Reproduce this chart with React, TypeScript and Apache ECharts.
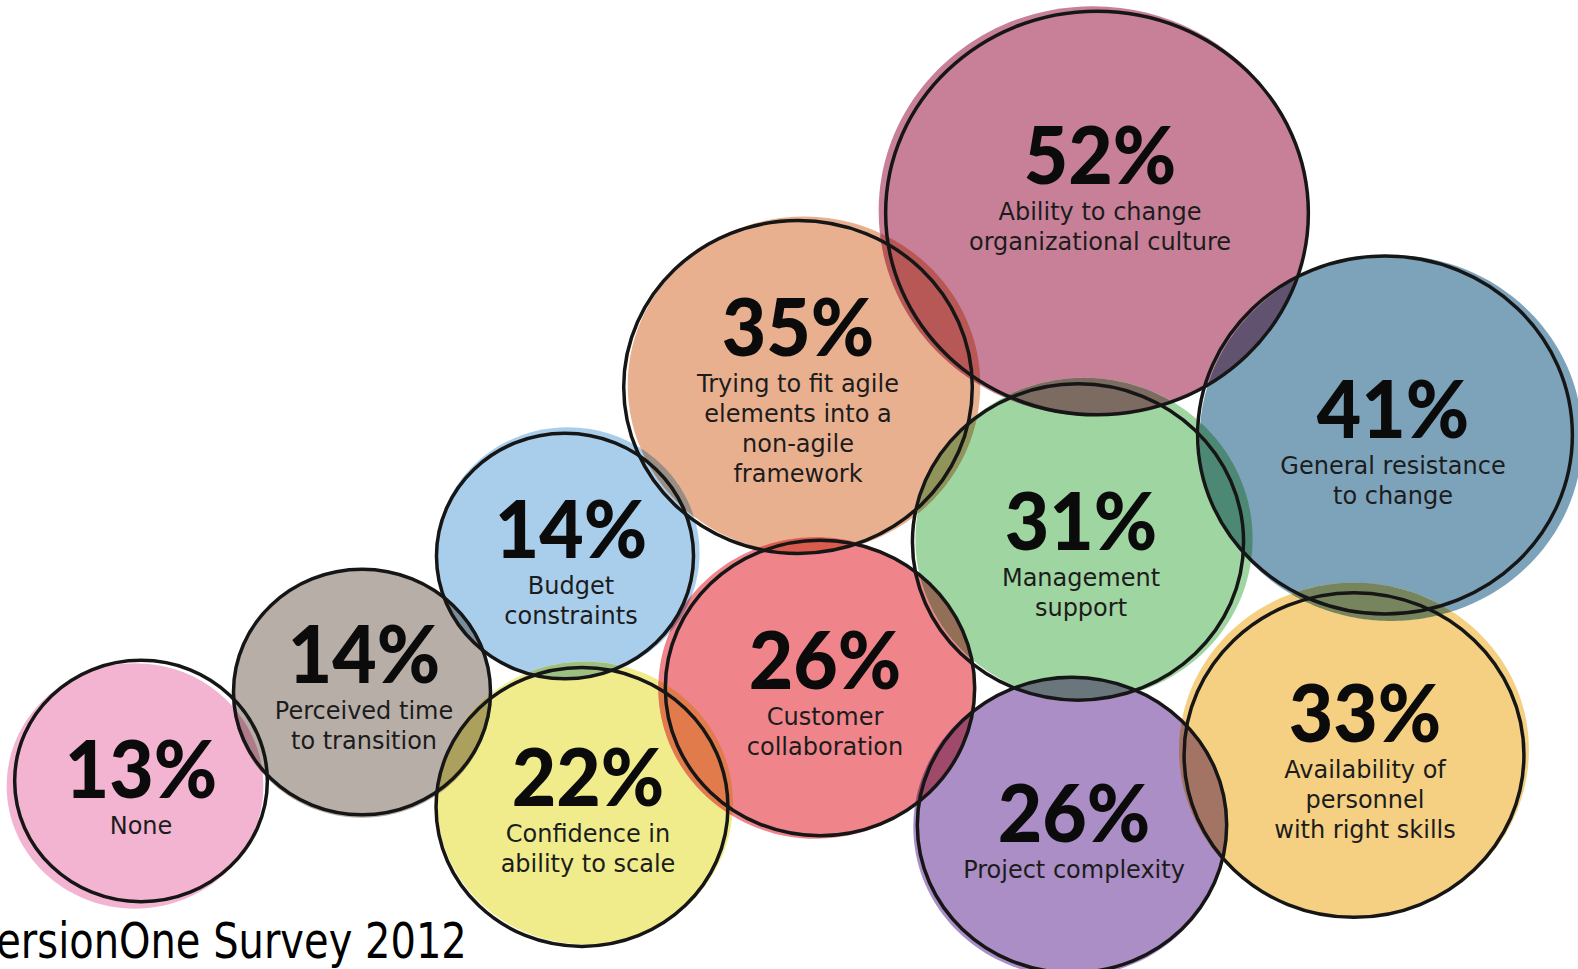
import React, { useEffect, useRef } from "react";
import * as echarts from "echarts";

// ---- data ----
const categories = [
  "None",
  "Perceived time\nto transition",
  "Budget\nconstraints",
  "Confidence in\nability to scale",
  "Trying to fit agile\nelements into a\nnon-agile\nframework",
  "Customer\ncollaboration",
  "Ability to change\norganizational culture",
  "Management\nsupport",
  "General resistance\nto change",
  "Availability of\npersonnel\nwith right skills",
  "Project complexity",
];
const percentValues = [13, 14, 14, 22, 35, 26, 52, 31, 41, 33, 26];
// bubble layout positions (packed-bubble coordinates)
const bubbleX = [141, 362, 565, 582, 798, 820, 1097, 1078, 1385, 1354, 1072];
const bubbleY = [781, 692, 556, 807, 387, 688, 213, 542, 435, 755, 825];
const sourceNote = "VersionOne Survey 2012";

// ---- styles ----
const palette = [
  "#F3B4D2",
  "#B7AEA8",
  "#A8CEEC",
  "#F0EC8C",
  "#E9B08F",
  "#EF858B",
  "#C88099",
  "#9ED5A0",
  "#7CA3BA",
  "#F5D082",
  "#AA8EC5",
];
// hand-drawn look: fill blob offset from the outline [dx, dy, extra radius]
const fillShift = [
  [-6, 5, 2],
  [0, 2, 1],
  [3, -3, 3],
  [3, -4, 2],
  [6, -2, 2],
  [-4, 0, 3],
  [-4, -2, 3],
  [6, -3, 3],
  [6, 3, 4],
  [0, -5, 5],
  [-2, 2, 2],
];
// label nudges [dx, dy]
const labelNudge = [
  [0, 0],
  [2, -11],
  [6, 0],
  [6, -3],
  [0, -3],
  [5, -1],
  [3, -31],
  [3, 6],
  [8, 1],
  [11, 0],
  [2, 0],
];
const ASPECT = 0.955;
const radiusFor = (v: number) => 98 + 2.18 * v;

type Ell = { cx: number; cy: number; rx: number; ry: number };

const hexToRgb = (h: string) => [
  parseInt(h.slice(1, 3), 16),
  parseInt(h.slice(3, 5), 16),
  parseInt(h.slice(5, 7), 16),
];
const multiply = (a: string, b: string) => {
  const x = hexToRgb(a);
  const y = hexToRgb(b);
  const c = x.map((v, i) => Math.round((v * y[i]) / 255));
  return `rgb(${c[0]},${c[1]},${c[2]})`;
};

const insideEll = (e: Ell, x: number, y: number) =>
  ((x - e.cx) / e.rx) ** 2 + ((y - e.cy) / e.ry) ** 2 < 1;

const arcInside = (e: Ell, o: Ell) => {
  const N = 360;
  const pts: number[][] = [];
  const flags: boolean[] = [];
  for (let k = 0; k < N; k++) {
    const t = (2 * Math.PI * k) / N;
    const x = e.cx + e.rx * Math.cos(t);
    const y = e.cy + e.ry * Math.sin(t);
    pts.push([x, y]);
    flags.push(insideEll(o, x, y));
  }
  let s = -1;
  for (let k = 0; k < N; k++) {
    if (flags[k] && !flags[(k - 1 + N) % N]) {
      s = k;
      break;
    }
  }
  if (s < 0) return flags[0] ? pts : [];
  const out: number[][] = [];
  for (let k = 0; k < N; k++) {
    const idx = (s + k) % N;
    if (!flags[idx]) break;
    out.push(pts[idx]);
  }
  return out;
};

const lens = (a: Ell, b: Ell) => {
  const pa = arcInside(a, b);
  const pb = arcInside(b, a);
  if (!pa.length || !pb.length) return null;
  return pa.concat(pb);
};

export default function App() {
  const ref = useRef<HTMLDivElement>(null);
  useEffect(() => {
    document.body.style.margin = "0";
    if (!ref.current) return;
    const chart = echarts.init(ref.current, null, { renderer: "svg" });
    const data = percentValues.map((v, i) => [bubbleX[i], bubbleY[i], v]);

    const outlineOf = (api: any, x: number, y: number, v: number): Ell => {
      const p = api.coord([x, y]);
      const r = radiusFor(v);
      const s = api.size([r, r]);
      return { cx: p[0], cy: p[1], rx: Math.abs(s[0]), ry: Math.abs(s[1]) * ASPECT };
    };
    const fillOf = (api: any, i: number): Ell => {
      const g = outlineOf(api, bubbleX[i], bubbleY[i], percentValues[i]);
      const [dx, dy, dr] = fillShift[i];
      return { cx: g.cx + dx, cy: g.cy + dy, rx: g.rx + dr, ry: g.ry + dr };
    };

    chart.setOption({
      animation: false,
      grid: { left: 0, right: 0, top: 0, bottom: 0 },
      xAxis: { type: "value", min: 0, max: 1578, show: false },
      yAxis: { type: "value", min: 0, max: 969, inverse: true, show: false },
      graphic: [
        {
          type: "text",
          x: -28,
          y: 941,
          scaleX: 0.8,
          style: {
            text: sourceNote,
            fontFamily: "DejaVu Sans",
            fontSize: 50,
            fill: "#000",
            verticalAlign: "middle",
          },
        },
      ],
      series: [
        {
          type: "custom",
          coordinateSystem: "cartesian2d",
          silent: true,
          z: 1,
          data,
          renderItem: (params: any, api: any) => {
            const i = params.dataIndex;
            const f = fillOf(api, i);
            const children: any[] = [
              { type: "ellipse", shape: f, style: { fill: palette[i] } },
            ];
            for (let j = 0; j < i; j++) {
              const pts = lens(f, fillOf(api, j));
              if (pts) {
                children.push({
                  type: "polygon",
                  shape: { points: pts },
                  style: { fill: multiply(palette[i], palette[j]) },
                });
              }
            }
            return { type: "group", children };
          },
        },
        {
          type: "custom",
          coordinateSystem: "cartesian2d",
          silent: true,
          z: 2,
          data,
          renderItem: (params: any, api: any) => {
            const i = params.dataIndex;
            const g = outlineOf(api, api.value(0), api.value(1), api.value(2));
            const label = categories[i];
            const n = label.split("\n").length;
            const [ndx, ndy] = labelNudge[i];
            const tx = g.cx + ndx;
            const py = g.cy - 14 - 15 * (n - 1) + ndy;
            return {
              type: "group",
              children: [
                {
                  type: "ellipse",
                  shape: g,
                  style: { fill: "none", stroke: "#161616", lineWidth: 3.5 },
                },
                {
                  type: "text",
                  x: tx,
                  y: py,
                  scaleX: 0.96,
                  style: {
                    text: api.value(2) + "%",
                    fontFamily: "Lato",
                    fontWeight: 900,
                    fontSize: 80,
                    align: "center",
                    verticalAlign: "middle",
                    fill: "#0b0b0b",
                  },
                },
                {
                  type: "text",
                  x: tx,
                  y: py + 59 - 15,
                  style: {
                    text: label,
                    fontFamily: "DejaVu Sans",
                    fontSize: 24,
                    lineHeight: 30,
                    align: "center",
                    verticalAlign: "top",
                    fill: "#1c1c1c",
                  },
                },
              ],
            };
          },
        },
      ],
    });
    return () => chart.dispose();
  }, []);
  return (
    <div
      ref={ref}
      style={{ position: "absolute", left: 0, top: 0, width: 1578, height: 969 }}
    />
  );
}
